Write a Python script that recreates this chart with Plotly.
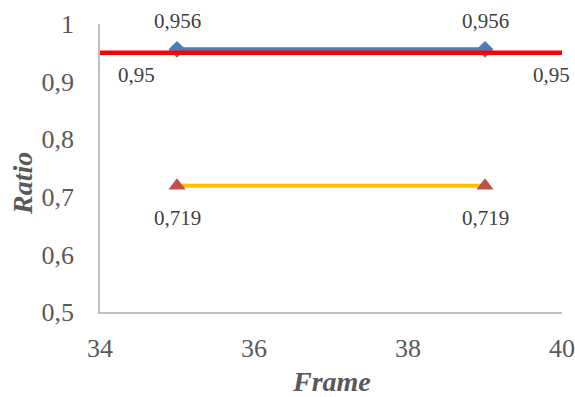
import plotly.graph_objects as go

frames_pts = [35, 39]
blue_vals = [0.956, 0.956]
yellow_vals = [0.719, 0.719]
threshold_x = [34, 40]
threshold_vals = [0.95, 0.95]
x_ticks = [34, 36, 38, 40]
y_ticks = [0.5, 0.6, 0.7, 0.8, 0.9, 1.0]
y_ticktext = ["0,5", "0,6", "0,7", "0,8", "0,9", "1"]

FONT = "Liberation Serif"
GREY = "#595959"
LBL = "#404040"


def fmt(v, d):
    return f"{v:.{d}f}".replace(".", ",")


fig = go.Figure()

fig.add_trace(go.Scatter(
    x=frames_pts, y=blue_vals, mode="lines+markers",
    line=dict(color="#4A7EBB", width=4),
    marker=dict(symbol="diamond", size=13, color="#4A7EBB"),
    cliponaxis=False, showlegend=False, hoverinfo="skip"))

fig.add_trace(go.Scatter(
    x=threshold_x, y=threshold_vals, mode="lines",
    line=dict(color="#FF0000", width=4.5), showlegend=False, cliponaxis=False,
    hoverinfo="skip"))

fig.add_trace(go.Scatter(
    x=frames_pts, y=yellow_vals, mode="lines+markers",
    line=dict(color="#FFC000", width=4),
    marker=dict(symbol="triangle-up", size=15, color="#C0504D"),
    cliponaxis=False, showlegend=False, hoverinfo="skip"))

lblfont = dict(family=FONT, size=21, color=LBL)
for xv, yv in zip(frames_pts, blue_vals):
    fig.add_annotation(x=xv, y=yv, text=fmt(yv, 3), showarrow=False,
                       yshift=28, font=lblfont)
for xv, yv in zip(frames_pts, yellow_vals):
    fig.add_annotation(x=xv, y=yv, text=fmt(yv, 3), showarrow=False,
                       yshift=-32, font=lblfont)
for xv, yv, shift in zip(threshold_x, threshold_vals, [36, -11]):
    fig.add_annotation(x=xv, y=yv, text=fmt(yv, 2), showarrow=False,
                       xshift=shift, yshift=-22, font=lblfont)

W, H = 575, 397
L, R, T, B = 100, 13, 24, 85
pw, ph = W - L - R, H - T - B
fig.add_annotation(xref="paper", yref="paper", x=(22 - L) / pw,
                   y=(H - B - 184) / ph,
                   text="<b><i>Ratio</i></b>", textangle=-90, showarrow=False,
                   xanchor="center", yanchor="middle",
                   font=dict(family=FONT, size=28, color=GREY))
fig.add_annotation(xref="paper", yref="paper", x=0.5,
                   y=(H - B - 381) / ph,
                   text="<b><i>Frame</i></b>", showarrow=False,
                   xanchor="center", yanchor="middle",
                   font=dict(family=FONT, size=28, color=GREY))

fig.update_layout(
    width=W, height=H,
    margin=dict(l=L, r=R, t=T, b=B),
    paper_bgcolor="white", plot_bgcolor="white",
    font=dict(family=FONT, color=GREY),
)
fig.update_xaxes(
    range=[34, 40], tickvals=x_ticks, ticks="", showgrid=False, zeroline=False,
    showline=True, linecolor="#BFBFBF", linewidth=1.5, automargin=False,
    ticklabelstandoff=12,
    tickfont=dict(family=FONT, size=26, color=GREY),
)
fig.update_yaxes(
    range=[0.5, 1.0], tickvals=y_ticks, ticktext=y_ticktext,
    ticks="", showgrid=False, zeroline=False, automargin=False,
    showline=True, linecolor="#BFBFBF", linewidth=1.5,
    ticklabelstandoff=19,
    tickfont=dict(family=FONT, size=26, color=GREY),
)

fig.write_html(
    "out.html",
    config={"displayModeBar": False},
    post_script="document.body.style.margin='0';document.body.style.overflow='hidden';",
)
